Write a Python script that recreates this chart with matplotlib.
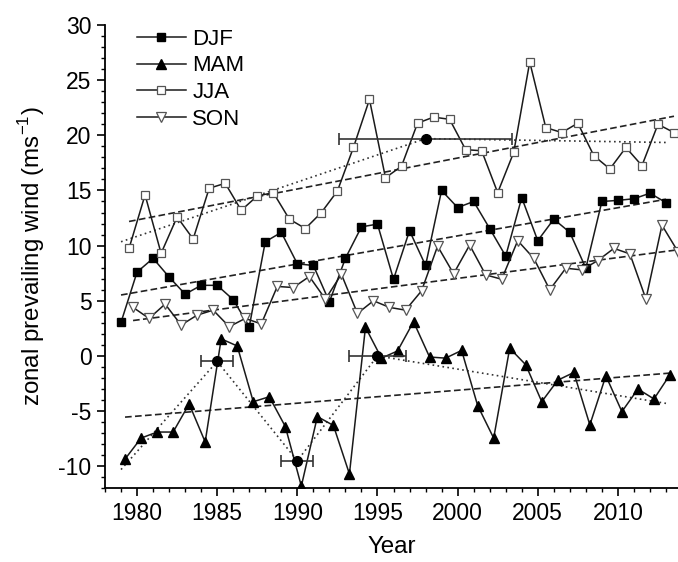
import numpy as np
import matplotlib
matplotlib.use("Agg")
import matplotlib.pyplot as plt
from matplotlib.ticker import MultipleLocator

plt.rcParams["font.family"] = ["Liberation Sans", "DejaVu Sans"]
plt.rcParams["mathtext.fontset"] = "custom"
plt.rcParams["mathtext.rm"] = "Liberation Sans"
plt.rcParams["axes.unicode_minus"] = False

# seasonal means of zonal prevailing wind, 1979-2013
years = np.arange(1979, 2014)

djf = [3.05, 7.6, 8.85, 7.15, 5.6, 6.4, 6.4, 5.1, 2.65, 10.35,
       11.2, 8.35, 8.2, 4.9, 8.85, 11.7, 11.95, 6.95, 11.35, 8.2,
       15.0, 13.45, 14.0, 11.55, 9.05, 14.35, 10.45, 12.4, 11.2, 7.95,
       14.0, 14.1, 14.25, 14.75, 13.9]
mam = [-9.35, -7.45, -6.9, -6.9, -4.35, -7.8, 1.55, 0.9, -4.15, -3.7,
       -6.4, -11.8, -5.5, -6.3, -10.7, 2.6, -0.2, 0.45, 3.1, -0.1,
       -0.2, 0.5, -4.5, -7.45, 0.7, -0.8, -4.15, -2.2, -1.5, -6.25,
       -1.8, -5.05, -3.0, -3.9, -1.7]
jja = [9.75, 14.6, 9.3, 12.6, 10.6, 15.2, 15.65, 13.2, 14.5, 14.8,
       12.4, 11.55, 13.0, 14.95, 18.9, 23.25, 16.15, 17.2, 21.1, 21.65,
       21.45, 18.7, 18.6, 14.8, 18.45, 26.65, 20.7, 20.25, 21.1, 18.15,
       16.95, 18.9, 17.25, 21.0, 20.25]
son = [4.4, 3.4, 4.7, 2.8, 3.7, 4.15, 2.65, 3.4, 2.9, 6.3,
       6.2, 7.2, 5.15, 7.4, 3.85, 5.0, 4.4, 4.15, 5.9, 9.95,
       7.45, 10.05, 7.35, 6.95, 10.45, 8.85, 6.0, 7.95, 7.8, 8.65,
       9.75, 9.25, 5.15, 11.85, 9.45]

# season offsets within the year
offsets = {"DJF": 0.0, "MAM": 0.25, "JJA": 0.5, "SON": 0.75}

# piecewise (breakpoint) fits
mam_fit_x = [1979, 1985, 1990, 1995, 2013]
mam_fit_y = [-10.3, -0.5, -9.5, 0.0, -4.3]
mam_bp_x = [1985, 1990, 1995]
mam_bp_y = [-0.5, -9.5, 0.0]
mam_bp_err = [1.0, 1.0, 1.8]

jja_fit_x = [1979, 1998, 2013]
jja_fit_y = [10.35, 19.7, 19.35]
jja_bp_x = [1998]
jja_bp_y = [19.7]
jja_bp_err = [5.4]

fig = plt.figure(figsize=(6.78, 5.62), dpi=100)
ax = fig.add_axes([105 / 678, 1 - 488.3 / 562, 1 - 105 / 678, 463.3 / 562])

series = [
    ("DJF", djf, dict(marker="s", ms=5.6, mfc="black", mec="black")),
    ("MAM", mam, dict(marker="^", ms=6.5, mfc="black", mec="black")),
    ("JJA", jja, dict(marker="s", ms=5.6, mfc="white", mec="#555555", mew=0.9)),
    ("SON", son, dict(marker="v", ms=7.2, mfc="white", mec="#555555", mew=0.9)),
]

for name, vals, style in series:
    x = years + offsets[name]
    ax.plot(x, vals, color="#1a1a1a", lw=1.1, label=name, zorder=3, **style)
    # linear trend
    k, b = np.polyfit(x, vals, 1)
    ax.plot(x, k * x + b, color="#222222", lw=1.2, ls=(0, (4, 2)), zorder=2)

# breakpoint fits
ax.plot(mam_fit_x, mam_fit_y, color="#333333", lw=1.2, ls=(0, (1, 2)), zorder=2)
ax.plot(jja_fit_x, jja_fit_y, color="#333333", lw=1.2, ls=(0, (1, 2)), zorder=2)
ax.errorbar(mam_bp_x, mam_bp_y, xerr=mam_bp_err, fmt="o", ms=7, color="black",
            ecolor="#333333", elinewidth=1.2, capsize=4, capthick=1.2, zorder=4)
ax.errorbar(jja_bp_x, jja_bp_y, xerr=jja_bp_err, fmt="o", ms=7, color="black",
            ecolor="#333333", elinewidth=1.2, capsize=4, capthick=1.2, zorder=4)

ax.set_xlim(1978, 2013.75)
ax.set_ylim(-12, 30)
ax.xaxis.set_major_locator(MultipleLocator(5))
ax.xaxis.set_minor_locator(MultipleLocator(1))
ax.yaxis.set_major_locator(MultipleLocator(5))
ax.yaxis.set_minor_locator(MultipleLocator(1))
ax.spines["top"].set_visible(False)
ax.spines["right"].set_visible(False)
for s in ("left", "bottom"):
    ax.spines[s].set_linewidth(1.3)
ax.tick_params(which="major", direction="out", length=5.8, width=1.2,
               labelsize=16.5, pad=4)
ax.tick_params(which="minor", direction="out", length=3, width=1.0)

ax.set_xlabel("Year", fontsize=17.4, labelpad=8)
ax.set_ylabel(r"zonal prevailing wind (ms$^{\mathregular{-1}}$)", fontsize=17.4, labelpad=8)

ax.legend(loc="upper left", bbox_to_anchor=(128 / 678, 1 - 20 / 562),
          bbox_transform=fig.transFigure, frameon=False, fontsize=16,
          numpoints=1, handlelength=2.2, handletextpad=0.3, labelspacing=0.25,
          borderaxespad=0)

fig.savefig("out.png", dpi=100)
